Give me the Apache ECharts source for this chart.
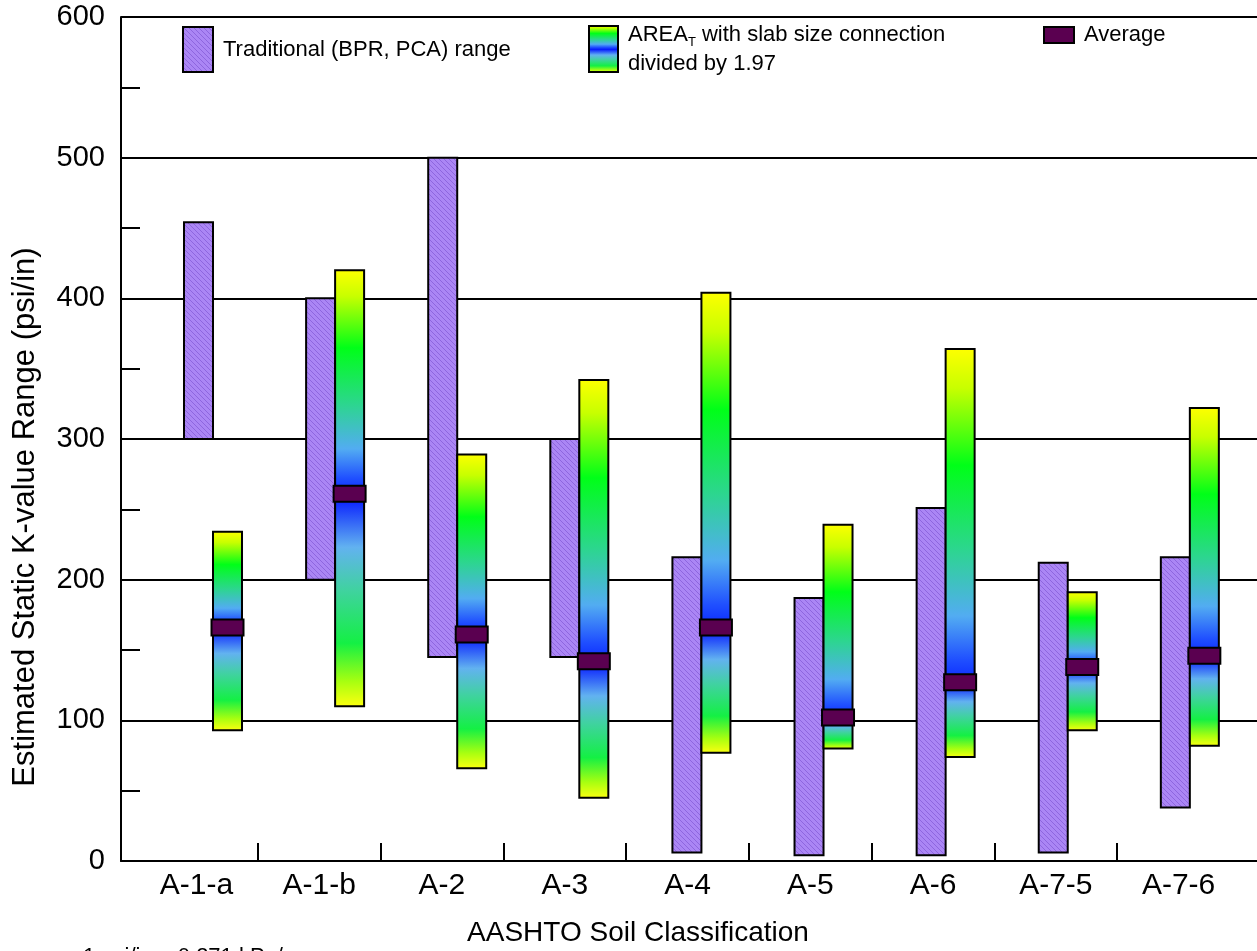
<!DOCTYPE html>
<html>
<head>
<meta charset="utf-8">
<script src="https://cdn.jsdelivr.net/npm/echarts@6/dist/echarts.min.js"></script>
<style>html,body{margin:0;padding:0;background:#fff;}#chart{width:1257px;height:951px;}</style>
</head>
<body>
<div id="chart"></div>
<script>
const categories = ['A-1-a','A-1-b','A-2','A-3','A-4','A-5','A-6','A-7-5','A-7-6'];
const tradLow  = [300,200,145,145,  6,  4,  4,  6, 38];
const tradHigh = [454,400,500,300,216,187,251,212,216];
const areaLow  = [ 93,110, 66, 45, 77, 80, 74, 93, 82];
const areaHigh = [234,420,289,342,404,239,364,191,322];
const avgVals  = [166,261,161,142,166,102,127,138,146];
const yTickLabels = [0,100,200,300,400,500,600];

const FONT = 'Liberation Sans, Arial, Helvetica, sans-serif';
const NAME_TRAD = 'Traditional (BPR, PCA) range';
const NAME_AREA = 'AREA_T with slab size connection divided by 1.97';
const NAME_AVG = 'Average';
const BAR_W = 29;

// hatch pattern for the traditional range bars
const pc = document.createElement('canvas');
pc.width = 5; pc.height = 5;
const pctx = pc.getContext('2d');
pctx.fillStyle = '#ab86f5'; pctx.fillRect(0,0,5,5);
pctx.strokeStyle = '#8e66df'; pctx.lineWidth = 1;
pctx.beginPath();
pctx.moveTo(-1,-1); pctx.lineTo(6,6);
pctx.moveTo(-6,-1); pctx.lineTo(1,6);
pctx.moveTo(4,-1); pctx.lineTo(11,6);
pctx.stroke();
const hatch = {image: pc, repeat: 'repeat'};

function areaGradient(f){
  const top = [[0,'#ffff00'],[0.12,'#c8ff00'],[0.35,'#00ff18'],[0.6,'#2cd68e'],[0.8,'#52acf2'],[0.93,'#2050ff'],[1,'#0a28ff']];
  const bot = [[0,'#0010ff'],[0.25,'#62b2f0'],[0.45,'#40d2a0'],[0.7,'#14f044'],[0.88,'#a8ff10'],[1,'#ffff10']];
  const stops = [];
  top.forEach(s => stops.push({offset: s[0]*f, color: s[1]}));
  bot.forEach(s => stops.push({offset: Math.min(1, f + s[0]*(1-f)), color: s[1]}));
  return new echarts.graphic.LinearGradient(0,0,0,1,stops);
}

const tradData = categories.map((c,i)=>[i, tradLow[i], tradHigh[i]]);
const areaData = categories.map((c,i)=>[i, areaLow[i], areaHigh[i], avgVals[i]]);
const avgData  = categories.map((c,i)=>[i, avgVals[i]]);

const chart = echarts.init(document.getElementById('chart'), null, {renderer:'canvas'});
const option = {
  backgroundColor: '#ffffff',
  animation: false,
  textStyle: {fontFamily: FONT},
  grid: [
    {left: 121, right: 0, top: 17, bottom: 90},
    {left: 258, right: 140, top: 17, bottom: 90},
    {left: 135, right: 17, top: 17, bottom: 90}
  ],
  xAxis: [
    {type:'value', gridIndex:0, min:-0.7535, max:8.55,
     axisLine:{show:true, onZero:false, lineStyle:{color:'#000', width:2}},
     axisTick:{show:false}, axisLabel:{show:false}, splitLine:{show:false}},
    {type:'value', gridIndex:1, min:1, max:8, interval:1,
     axisLine:{show:false, onZero:false}, axisLabel:{show:false}, splitLine:{show:false},
     axisTick:{show:true, inside:true, length:18, lineStyle:{color:'#000', width:2}}},
    {type:'category', gridIndex:2, data: categories, boundaryGap:true,
     axisLine:{show:false, onZero:false}, axisTick:{show:false}, splitLine:{show:false},
     axisLabel:{show:true, color:'#000', fontSize:30, fontFamily:FONT, margin:10}}
  ],
  yAxis: [
    {type:'value', gridIndex:0, min:0, max:600, interval:100,
     axisLine:{show:true, onZero:false, lineStyle:{color:'#000', width:2}},
     axisTick:{show:false, inside:true},
     minorTick:{show:true, splitNumber:2, length:19, lineStyle:{color:'#000', width:2}},
     axisLabel:{show:true, color:'#000', fontSize:29, fontFamily:FONT, margin:16,
       formatter: v => yTickLabels.indexOf(v) >= 0 ? String(v) : ''},
     splitLine:{show:true, lineStyle:{color:'#000', width:2}}},
    {type:'value', gridIndex:1, min:0, max:600, show:false},
    {type:'value', gridIndex:2, min:0, max:600, show:false}
  ],
  legend: [
    {left:182, top:26, padding:0, itemWidth:30, itemHeight:45,
     textStyle:{fontSize:22, color:'#000', fontFamily:FONT, padding:[0,0,0,5]},
     data:[{name:NAME_TRAD, icon:'rect', itemStyle:{color:hatch, borderColor:'#000', borderWidth:2}}]},
    {left:588, top:20, padding:0, itemWidth:29, itemHeight:46,
     formatter: () => 'AREA{sub|T} with slab size connection\ndivided by 1.97',
     textStyle:{fontSize:22, color:'#000', fontFamily:FONT, lineHeight:29, padding:[0,0,0,5],
       rich:{sub:{fontSize:13, fontFamily:FONT, color:'#000', lineHeight:29, verticalAlign:'bottom', padding:[12,0,0,0]}}},
     data:[{name:NAME_AREA, icon:'rect', itemStyle:{color: areaGradient(0.5), borderColor:'#000', borderWidth:2}}]},
    {left:1043, top:24, padding:0, itemWidth:30, itemHeight:16,
     textStyle:{fontSize:22, color:'#000', fontFamily:FONT, padding:[0,0,0,5]},
     data:[{name:NAME_AVG, icon:'rect', itemStyle:{color:'#5a0050', borderColor:'#000', borderWidth:2}}]}
  ],
  graphic: [
    {type:'text', x:25, y:517, rotation:Math.PI/2,
     style:{text:'Estimated Static K-value Range (psi/in)', font:'31px ' + FONT, fill:'#000', align:'center', verticalAlign:'middle'}},
    {type:'text', x:638, y:933,
     style:{text:'AASHTO Soil Classification', font:'28px ' + FONT, fill:'#000', align:'center', verticalAlign:'middle'}},
    {type:'text', x:83, y:946,
     style:{text:'1 psi/in = 0.271 kPa/mm', font:'22px ' + FONT, fill:'#000', align:'left', verticalAlign:'top'}}
  ],
  series: [
    {name:NAME_TRAD, type:'custom', xAxisIndex:0, yAxisIndex:0, data: tradData, z:3,
     itemStyle:{color:'#ab86f5'},
     encode:{x:0, y:[1,2]},
     renderItem: function(params, api){
       const x = api.value(0), lo = api.value(1), hi = api.value(2);
       const pt = api.coord([x, hi]), pb = api.coord([x, lo]);
       return {type:'rect', shape:{x: pt[0]-BAR_W, y: pt[1], width: BAR_W, height: pb[1]-pt[1]},
               style:{fill: hatch, stroke:'#000', lineWidth:2}};
     }},
    {name:NAME_AREA, type:'custom', xAxisIndex:0, yAxisIndex:0, data: areaData, z:4,
     itemStyle:{color:'#00ff18'},
     encode:{x:0, y:[1,2]},
     renderItem: function(params, api){
       const x = api.value(0), lo = api.value(1), hi = api.value(2), av = api.value(3);
       const pt = api.coord([x, hi]), pb = api.coord([x, lo]);
       const f = (hi - av) / (hi - lo);
       return {type:'rect', shape:{x: pt[0], y: pt[1], width: BAR_W, height: pb[1]-pt[1]},
               style:{fill: areaGradient(f), stroke:'#000', lineWidth:2}};
     }},
    {name:NAME_AVG, type:'custom', xAxisIndex:0, yAxisIndex:0, data: avgData, z:5,
     itemStyle:{color:'#5a0050'},
     encode:{x:0, y:1},
     renderItem: function(params, api){
       const x = api.value(0), v = api.value(1);
       const p = api.coord([x, v]);
       const w = 32, h = 16;
       return {type:'rect', shape:{x: p[0] + BAR_W/2 - w/2, y: p[1]-h/2, width: w, height: h},
               style:{fill:'#5a0050', stroke:'#000', lineWidth:2}};
     }}
  ]
};
chart.setOption(option);
</script>
</body>
</html>
